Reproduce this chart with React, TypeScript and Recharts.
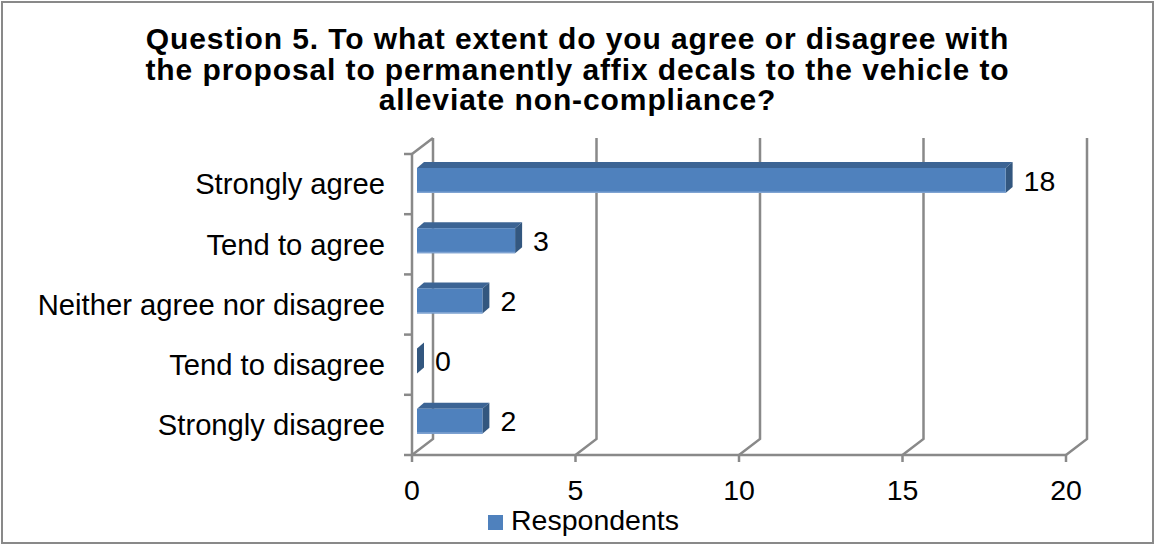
import React from 'react';
import { BarChart, Bar, XAxis, YAxis, CartesianGrid, Legend, LabelList } from 'recharts';

const categories = ['Strongly agree', 'Tend to agree', 'Neither agree nor disagree', 'Tend to disagree', 'Strongly disagree'];
const respondents = [18, 3, 2, 0, 2];
const xTicks = [0, 5, 10, 15, 20];
const titleLines = [
  'Question 5. To what extent do you agree or disagree with',
  'the proposal to permanently affix decals to the vehicle to',
  'alleviate non-compliance?',
];
const seriesName = 'Respondents';

const data = categories.map((category, i) => ({ category, respondents: respondents[i] }));

const W = 1155;
const H = 545;
const MARGIN = { top: 154, right: 89, bottom: 0, left: 12 };
const Y_AXIS_W = 400;
const X_AXIS_H = 55;
const LEGEND_H = 35;
const PLOT_LEFT = MARGIN.left + Y_AXIS_W;
const PLOT_BOTTOM = H - MARGIN.bottom - LEGEND_H - X_AXIS_H;
const BAND = (PLOT_BOTTOM - MARGIN.top) / categories.length;

// fake 3d: depth of the walls and of the bars
const WALL_DX = 21;
const WALL_DY = 16;
const BAR_OFF_X = 5;
const BAR_OFF_Y = 4;
const BAR_DX = 7;
const BAR_DY = 6;

const FONT = '"Liberation Sans", Arial, sans-serif';
const FS = 28.5;
const CAT_FS = 29.2;
const GRID = '#898989';
const BLUE = '#4F81BD';

// back wall gridline + floor diagonal, left wall top edge on the first one
const renderGridLine = (p: any) => {
  const x = p.x1;
  const bx = x + WALL_DX;
  let d = `M${bx},${p.y1 - WALL_DY} L${bx},${p.y2 - WALL_DY} L${x},${p.y2}`;
  if (Math.abs(x - PLOT_LEFT) < 1) d += ` M${x},${p.y1} L${bx},${p.y1 - WALL_DY}`;
  return <path key={p.key} d={d} stroke={GRID} strokeWidth={2.5} fill="none" />;
};

const Bar3D = (p: any) => {
  const w = Math.max(0, p.width || 0);
  const h = p.height;
  const x = p.x + BAR_OFF_X;
  const y = p.y - BAR_OFF_Y;
  return (
    <g>
      <polygon
        points={`${x},${y} ${x + BAR_DX},${y - BAR_DY} ${x + w + BAR_DX},${y - BAR_DY} ${x + w},${y}`}
        fill="#3C6494"
      />
      <polygon
        points={`${x + w},${y} ${x + w + BAR_DX},${y - BAR_DY} ${x + w + BAR_DX},${y + h - BAR_DY} ${x + w},${y + h}`}
        fill="#33577F"
      />
      {w > 0 && <rect x={x} y={y} width={w} height={h} fill={BLUE} />}
      {w > 0 && <line x1={x} x2={x + w} y1={y + h - 0.75} y2={y + h - 0.75} stroke="#7FA3D2" strokeWidth={1.5} />}
    </g>
  );
};

const renderValue = (p: any) => (
  <text
    x={p.x + p.width + BAR_OFF_X + 18}
    y={p.y + p.height / 2 - BAR_OFF_Y}
    dy="0.355em"
    fontSize={FS}
    fontFamily={FONT}
    fill="#000"
  >
    {p.value}
  </text>
);

const CategoryTick = (p: any) => {
  const { x, y, payload, index } = p;
  return (
    <g>
      <line x1={x - 8} x2={x} y1={y - BAND / 2} y2={y - BAND / 2} stroke={GRID} strokeWidth={2.5} />
      {index === categories.length - 1 && (
        <line x1={x - 8} x2={x} y1={y + BAND / 2} y2={y + BAND / 2} stroke={GRID} strokeWidth={2.5} />
      )}
      <text x={x - 27} y={y} dy="0.355em" textAnchor="end" fontSize={CAT_FS} fontFamily={FONT} fill="#000">
        {payload.value}
      </text>
    </g>
  );
};

const ValueTick = (p: any) => (
  <text x={p.x} y={p.y + 38} textAnchor="middle" fontSize={FS} fontFamily={FONT} fill="#000">
    {p.payload.value}
  </text>
);

const renderLegend = () => (
  <svg width={W} height={LEGEND_H} style={{ display: 'block', overflow: 'visible' }}>
    <rect x={488} y={5} width={15} height={15} fill={BLUE} />
    <text x={511} y={20} fontSize={FS} fontFamily={FONT} fill="#000">
      {seriesName}
    </text>
  </svg>
);

export default function App() {
  return (
    <div style={{ position: 'absolute', left: 0, top: 0, width: W, height: H, background: '#fff' }}>
      <BarChart width={W} height={H} data={data} layout="vertical" margin={MARGIN}>
        <CartesianGrid horizontal={false} vertical={renderGridLine} />
        <XAxis
          type="number"
          domain={[0, 20]}
          ticks={xTicks}
          interval={0}
          height={X_AXIS_H}
          tickSize={7}
          tickMargin={0}
          axisLine={{ stroke: GRID, strokeWidth: 2.5 }}
          tickLine={{ stroke: GRID, strokeWidth: 2.5 }}
          tick={ValueTick}
        />
        <YAxis
          type="category"
          dataKey="category"
          width={Y_AXIS_W}
          interval={0}
          tickSize={0}
          tickMargin={0}
          axisLine={{ stroke: GRID, strokeWidth: 2.5 }}
          tickLine={false}
          tick={CategoryTick}
        />
        <Legend
          verticalAlign="bottom"
          height={LEGEND_H}
          content={renderLegend}
          wrapperStyle={{ left: 0, width: W, bottom: MARGIN.bottom }}
        />
        <Bar dataKey="respondents" name={seriesName} barSize={25} shape={Bar3D} isAnimationActive={false}>
          <LabelList dataKey="respondents" content={renderValue} />
        </Bar>
      </BarChart>
      <div
        style={{
          position: 'absolute',
          left: 0,
          top: 24,
          width: W,
          textAlign: 'center',
          fontFamily: FONT,
          fontWeight: 'bold',
          fontSize: 30,
          lineHeight: '30.5px',
          letterSpacing: 0.9,
          color: '#000',
        }}
      >
        {titleLines.map((l) => (
          <div key={l}>{l}</div>
        ))}
      </div>
      <div
        style={{
          position: 'absolute',
          left: 1,
          top: 1,
          width: W - 2,
          height: H - 2,
          border: `2px solid ${GRID}`,
          boxSizing: 'border-box',
          pointerEvents: 'none',
        }}
      />
    </div>
  );
}
